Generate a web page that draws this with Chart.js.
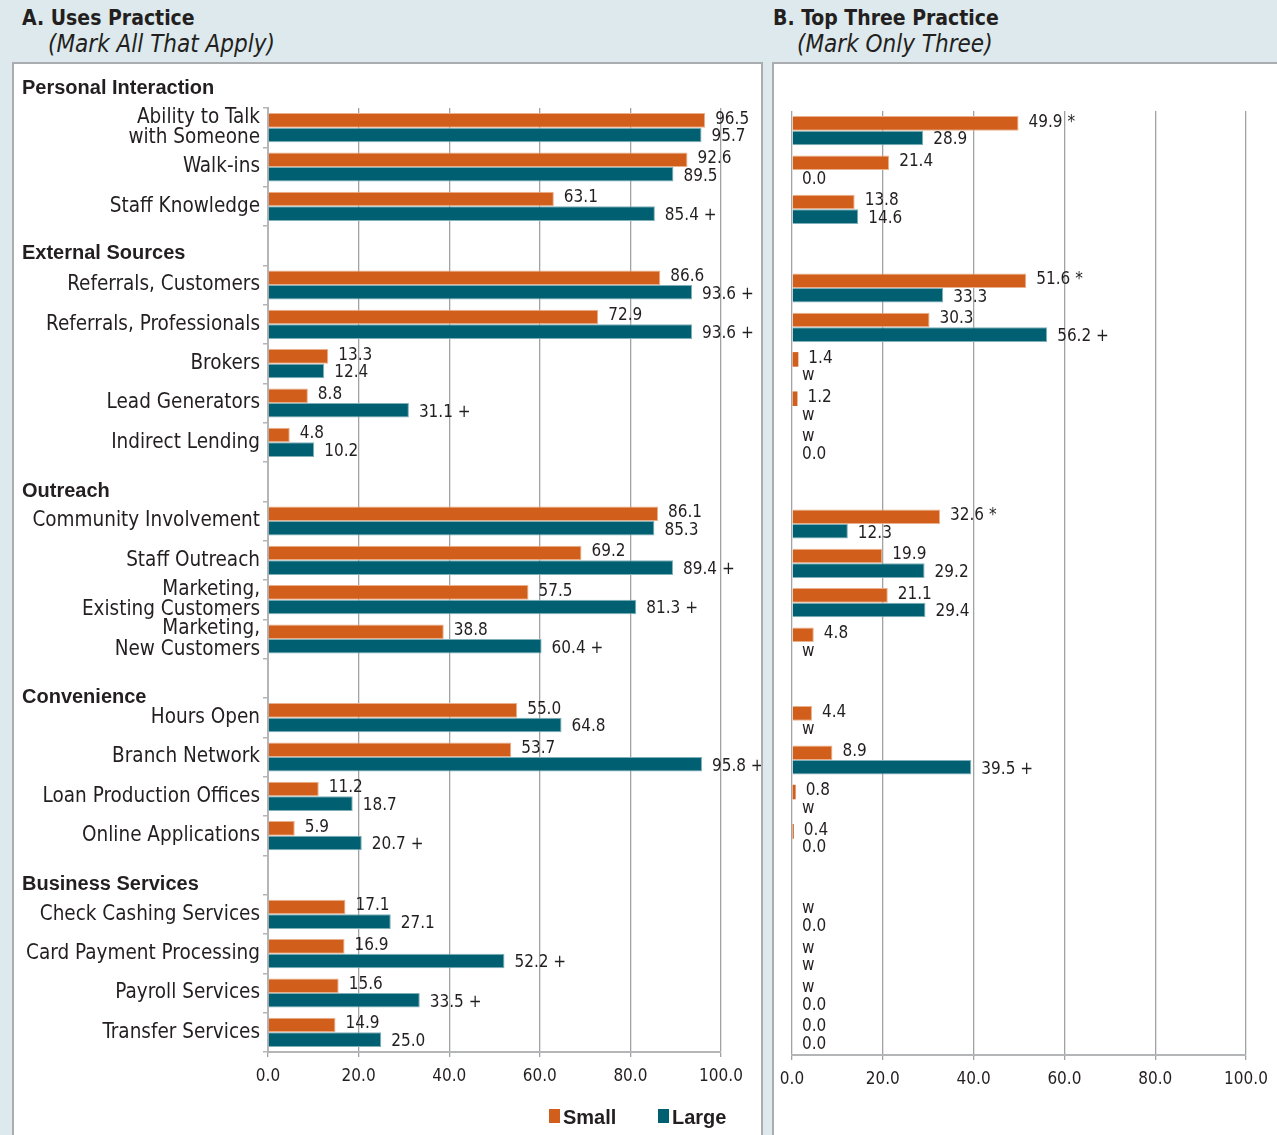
<!DOCTYPE html>
<html>
<head>
<meta charset="utf-8">
<script src="https://cdn.jsdelivr.net/npm/chart.js@4.4.0/dist/chart.umd.min.js"></script>
<style>
  body { margin: 0; width: 1277px; height: 1135px; background: #dde9ec; position: relative; overflow: hidden;
         font-family: "Liberation Sans Narrow", "DejaVu Sans Condensed", Roboto, sans-serif; color: #231f20; }
  .ttl { position: absolute; font-weight: bold; font-size: 21px; line-height: 1; }
  .sub { position: absolute; font-style: italic; font-size: 24px; line-height: 1; }
  .panel { position: absolute; top: 62px; height: 1090px; background: #fff; border: 2px solid #a9adaf; border-bottom: none; }
  canvas { position: absolute; left: 0; top: 0; }
  .legend { position: absolute; top: 1106px; font: bold 20px "Liberation Sans", Arial, sans-serif; }
  .legend span { position: absolute; white-space: nowrap; }
  .legend i { position: absolute; width: 11px; height: 14px; top: 3px; }
</style>
</head>
<body>
<div class="ttl" style="left:22px;top:8px">A. Uses Practice</div>
<div class="sub" style="left:48px;top:32px">(Mark All That Apply)</div>
<div class="ttl" style="left:773px;top:8px">B. Top Three Practice</div>
<div class="sub" style="left:797px;top:32px">(Mark Only Three)</div>

<div class="panel" style="left:12px;width:747px">
  <canvas id="chartA" width="747" height="1071"></canvas>
</div>
<div class="panel" style="left:772px;width:510px">
  <canvas id="chartB" width="503" height="1071"></canvas>
</div>
<div class="legend" id="legend"></div>

<script>
// rows of the chart, '' = group header slot
const categories = [
  ['Ability to Talk', 'with Someone'], 'Walk-ins', 'Staff Knowledge', '',
  'Referrals, Customers', 'Referrals, Professionals', 'Brokers', 'Lead Generators', 'Indirect Lending', '',
  'Community Involvement', 'Staff Outreach', ['Marketing,', 'Existing Customers'], ['Marketing,', 'New Customers'], '',
  'Hours Open', 'Branch Network', 'Loan Production Offices', 'Online Applications', '',
  'Check Cashing Services', 'Card Payment Processing', 'Payroll Services', 'Transfer Services'
];
const groupNames = ['Personal Interaction', 'External Sources', 'Outreach', 'Convenience', 'Business Services'];
const groupSlots = [-1, 3, 9, 14, 19];

const seriesNames = ['Small', 'Large'];
const xTicks = [0, 20, 40, 60, 80, 100];

// A. Uses Practice
const smallA = [96.5, 92.6, 63.1, null, 86.6, 72.9, 13.3, 8.8, 4.8, null, 86.1, 69.2, 57.5, 38.8, null, 55.0, 53.7, 11.2, 5.9, null, 17.1, 16.9, 15.6, 14.9];
const smallAMarks = ['', '', '', '', '', '', '', '', '', '', '', '', '', '', '', '', '', '', '', '', '', '', '', ''];
const largeA = [95.7, 89.5, 85.4, null, 93.6, 93.6, 12.4, 31.1, 10.2, null, 85.3, 89.4, 81.3, 60.4, null, 64.8, 95.8, 18.7, 20.7, null, 27.1, 52.2, 33.5, 25.0];
const largeAMarks = ['', '', '+', '', '+', '+', '', '+', '', '', '', '+', '+', '+', '', '', '+', '', '+', '', '', '+', '+', ''];

// B. Top Three Practice ('w' = withheld)
const smallB = [49.9, 21.4, 13.8, null, 51.6, 30.3, 1.4, 1.2, 'w', null, 32.6, 19.9, 21.1, 4.8, null, 4.4, 8.9, 0.8, 0.4, null, 'w', 'w', 'w', 0.0];
const smallBMarks = ['*', '', '', '', '*', '', '', '', '', '', '*', '', '', '', '', '', '', '', '', '', '', '', '', ''];
const largeB = [28.9, 0.0, 14.6, null, 33.3, 56.2, 'w', 'w', 0.0, null, 12.3, 29.2, 29.4, 'w', null, 'w', 39.5, 'w', 0.0, null, 0.0, 'w', 0.0, 0.0];
const largeBMarks = ['', '', '', '', '', '+', '', '', '', '', '', '', '', '', '', '', '+', '', '', '', '', '', '', ''];

const colors = ['#d15e1a', '#005f70'];
const edgeColors = ['#eab08c', '#7fb0b9'];
const FONT = '"Liberation Sans Narrow", "DejaVu Sans Condensed", Roboto, sans-serif';
const gridColor = '#a0a2a4';
const axisColor = '#b3b5b7';
const headerOffsets = [0.5, 7.5, 9.5, 19, 9.5];

function makeSets(small, smallMarks, large, largeMarks) {
  return [[small, smallMarks], [large, largeMarks]].map(([vals, marks], k) => ({
    label: seriesNames[k],
    data: vals.map(v => typeof v === 'number' ? v : null),
    raw: vals,
    marks: marks,
    backgroundColor: colors[k],
    borderColor: edgeColors[k],
    borderWidth: c => (c.raw !== null && c.raw < 2 ? 0 : 1),
    categoryPercentage: 0.74,
    barPercentage: 1.0
  }));
}

const valueLabels = {
  id: 'valueLabels',
  afterDatasetsDraw(chart) {
    const ctx = chart.ctx;
    const x = chart.scales.x;
    ctx.save();
    ctx.font = '17px ' + FONT;
    ctx.fillStyle = '#231f20';
    ctx.textBaseline = 'middle';
    ctx.textAlign = 'left';
    chart.data.datasets.forEach((ds, di) => {
      const meta = chart.getDatasetMeta(di);
      ds.raw.forEach((v, i) => {
        if (v === null) return;
        const el = meta.data[i];
        const txt = v === 'w' ? 'w' : v.toFixed(1) + (ds.marks[i] ? ' ' + ds.marks[i] : '');
        const xv = typeof v === 'number' ? v : 0;
        ctx.fillText(txt, x.getPixelForValue(xv) + 10, el.y + (di === 0 ? -1 : 2));
      });
    });
    ctx.restore();
  }
};

const groupHeaders = {
  id: 'groupHeaders',
  afterDraw(chart) {
    const ctx = chart.ctx;
    const y = chart.scales.y;
    ctx.save();
    ctx.font = 'bold 20px "Liberation Sans", Arial, sans-serif';
    ctx.fillStyle = '#231f20';
    ctx.textBaseline = 'middle';
    groupNames.forEach((name, g) => {
      ctx.fillText(name, 8, y.getPixelForValue(groupSlots[g]) + headerOffsets[g]);
    });
    ctx.restore();
  }
};

function xScale(h) {
  return {
    min: 0, max: 100,
    afterBuildTicks: s => { s.ticks = xTicks.map(v => ({ value: v })); },
    afterFit: s => { s.height = h; s.paddingLeft = 0; s.paddingRight = 0; },
    grid: { color: gridColor, lineWidth: 1.3, tickLength: 5 },
    border: { color: axisColor, width: 2 },
    ticks: { color: '#231f20', padding: 9, font: { family: FONT, size: 17 }, callback: v => v.toFixed(1), maxRotation: 0 }
  };
}

new Chart(document.getElementById('chartA'), {
  type: 'bar',
  data: { labels: categories, datasets: makeSets(smallA, smallAMarks, largeA, largeAMarks) },
  options: {
    indexAxis: 'y', responsive: false, animation: false,
    layout: { padding: { top: 44, right: 40, bottom: 43, left: 0 } },
    plugins: { legend: { display: false }, tooltip: { enabled: false } },
    scales: {
      x: xScale(40),
      y: {
        afterFit: s => { s.width = 254; },
        grid: { drawOnChartArea: false, color: axisColor, lineWidth: 1.5, tickLength: 5, offset: true },
        border: { color: axisColor, width: 2 },
        ticks: { color: '#231f20', padding: 3, autoSkip: false, font: { family: FONT, size: 20.5, lineHeight: 1.0 } }
      }
    }
  },
  plugins: [valueLabels, groupHeaders]
});

new Chart(document.getElementById('chartB'), {
  type: 'bar',
  data: { labels: categories, datasets: makeSets(smallB, smallBMarks, largeB, largeBMarks) },
  options: {
    indexAxis: 'y', responsive: false, animation: false,
    layout: { padding: { top: 47, right: 31, bottom: 40, left: 18 } },
    plugins: { legend: { display: false }, tooltip: { enabled: false } },
    scales: {
      x: xScale(40),
      y: { display: false }
    }
  },
  plugins: [valueLabels]
});

// legend under panel A
const legend = document.getElementById('legend');
const legendX = [549, 658];
seriesNames.forEach((name, k) => {
  const box = document.createElement('i');
  box.style.left = legendX[k] + 'px';
  box.style.background = colors[k];
  const txt = document.createElement('span');
  txt.style.left = (legendX[k] + 14) + 'px';
  txt.textContent = name;
  legend.appendChild(box);
  legend.appendChild(txt);
});
</script>
</body>
</html>
